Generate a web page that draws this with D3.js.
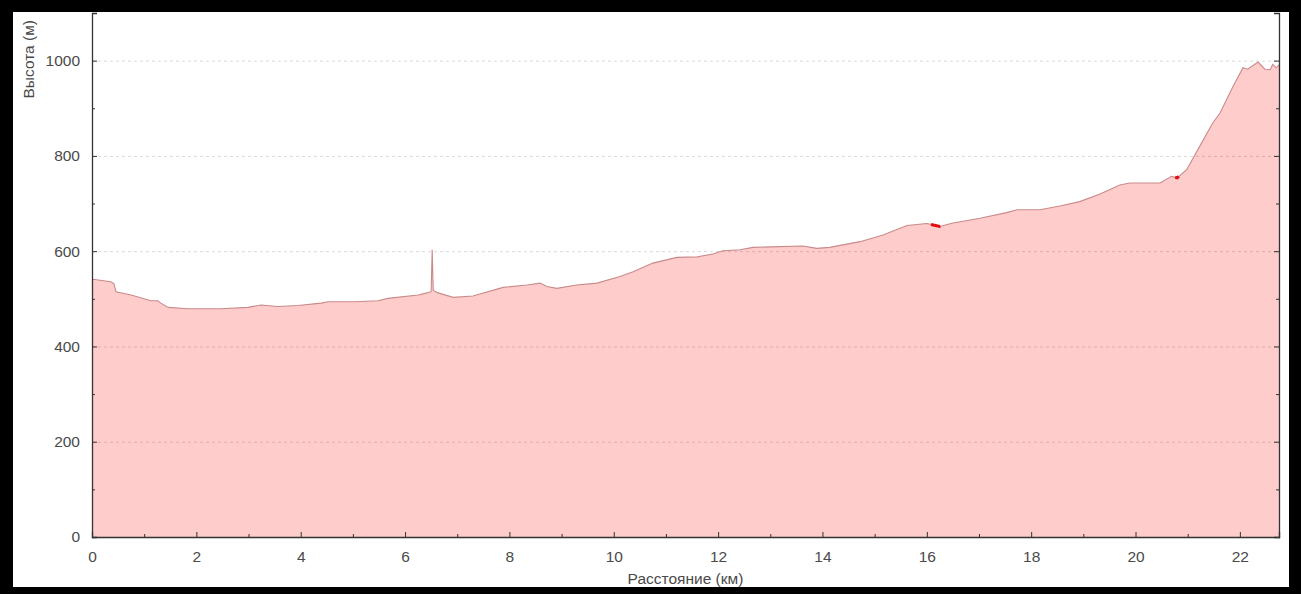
<!DOCTYPE html>
<html>
<head>
<meta charset="utf-8">
<script src="https://cdn.jsdelivr.net/npm/d3@7"></script>
<style>
  html, body { margin: 0; padding: 0; background: #000; }
  svg { display: block; }
</style>
</head>
<body>
<svg id="chart" width="1301" height="594"></svg>
<script>
const distanceKm = [0, 0.02, 0.36, 0.42, 0.46, 0.75, 1.13, 1.26, 1.32, 1.46, 1.84, 2.47, 2.99, 3.24, 3.56, 3.95, 4.39, 4.52, 5.04, 5.48, 5.67, 6.25, 6.40, 6.50, 6.52, 6.54, 6.62, 6.92, 7.30, 7.88, 8.34, 8.59, 8.72, 8.91, 9.29, 9.68, 10.12, 10.37, 10.75, 11.21, 11.6, 11.9, 12.09, 12.42, 12.67, 13.63, 13.89, 14.14, 14.72, 15.16, 15.62, 16.0, 16.25, 16.5, 17.02, 17.53, 17.73, 18.17, 18.55, 18.93, 19.32, 19.7, 19.89, 20.08, 20.47, 20.69, 20.80, 20.98, 21.23, 21.48, 21.62, 21.87, 22.06, 22.15, 22.35, 22.48, 22.58, 22.63, 22.70, 22.75];
const elevationM = [540, 541, 536, 532, 515, 508, 496, 496, 491, 482, 479, 479, 482, 487, 484, 486, 491, 494, 494, 496, 501, 508, 512, 515, 603, 518, 513, 503, 506, 524, 529, 533, 526, 522, 529, 533, 547, 557, 575, 587, 588, 594, 601, 603, 608, 611, 606, 608, 620, 634, 654, 658, 652, 659, 669, 681, 687, 687, 695, 704, 720, 739, 743, 743, 743, 757, 754, 771, 820, 869, 890, 946, 985, 982, 997, 982, 981, 992, 985, 991];

// Highlighted (red) stretches of the track
const highlightStartKm = [16.08, 20.76];
const highlightEndKm = [16.26, 20.83];

const xTicksMajor = [0, 2, 4, 6, 8, 10, 12, 14, 16, 18, 20, 22];
const yTicksMajor = [0, 200, 400, 600, 800, 1000];
const xTitle = "Расстояние (км)";
const yTitle = "Высота (м)";

const svg = d3.select("#chart");
const W = 1301, H = 594;

// frame
svg.append("rect").attr("x", 0).attr("y", 0).attr("width", W).attr("height", H).attr("fill", "#000");
svg.append("rect").attr("x", 13).attr("y", 12).attr("width", 1276).attr("height", 575).attr("fill", "#fff");

const plot = { left: 92, right: 1279, top: 13, bottom: 537 };
const x = d3.scaleLinear().domain([0, 22.75]).range([plot.left, plot.right]);
const y = d3.scaleLinear().domain([0, 1100]).range([plot.bottom, plot.top]);

const data = distanceKm.map((d, i) => ({ d, e: elevationM[i] }));

// area
const area = d3.area().x(p => x(p.d)).y0(y(0)).y1(p => y(p.e));
svg.append("path").datum(data).attr("d", area).attr("fill", "#ffcccc");

// gridlines
svg.append("g").selectAll("line").data(yTicksMajor.filter(v => v > 0)).join("line")
  .attr("x1", plot.left).attr("x2", plot.right)
  .attr("y1", v => y(v) + 0.5).attr("y2", v => y(v) + 0.5)
  .attr("stroke", "rgba(0,0,0,0.15)").attr("stroke-dasharray", "3,3").attr("stroke-width", 1);

// profile line
const line = d3.line().x(p => x(p.d)).y(p => y(p.e));
svg.append("path").datum(data).attr("d", line)
  .attr("fill", "none").attr("stroke", "#c98a8a").attr("stroke-width", 1.1);

// highlights
const interp = km => {
  const i = d3.bisector(p => p.d).right(data, km);
  const a = data[Math.max(0, i - 1)], b = data[Math.min(data.length - 1, i)];
  const t = b.d === a.d ? 0 : (km - a.d) / (b.d - a.d);
  return a.e + (b.e - a.e) * t;
};
highlightStartKm.forEach((s, k) => {
  const e = highlightEndKm[k];
  const pts = [{ d: s, e: interp(s) }]
    .concat(data.filter(p => p.d > s && p.d < e))
    .concat([{ d: e, e: interp(e) }]);
  svg.append("path").datum(pts).attr("d", line)
    .attr("fill", "none").attr("stroke", "#e01010").attr("stroke-width", 3);
});

// axes
const axisColor = "#333";
const font = "Liberation Sans, Arial, sans-serif";
const textColor = "#4a4a4a";
const fs = 15.5;

const yAxisL = d3.axisLeft(y).tickValues(d3.range(0, 1101, 100)).tickSize(-5).tickFormat(v => yTicksMajor.includes(v) ? v : "");
const yAxisR = d3.axisRight(y).tickValues(d3.range(0, 1101, 100)).tickSize(-5).tickFormat("");
const xAxisB = d3.axisBottom(x).tickValues(d3.range(0, 23, 1)).tickSize(-5).tickFormat(v => xTicksMajor.includes(v) ? v : "");

const gL = svg.append("g").attr("transform", `translate(${plot.left},0)`).call(yAxisL);
const gR = svg.append("g").attr("transform", `translate(${plot.right},0)`).call(yAxisR);
const gB = svg.append("g").attr("transform", `translate(0,${plot.bottom})`).call(xAxisB);

[gL, gR, gB].forEach(g => {
  g.select(".domain").attr("stroke", axisColor).attr("stroke-width", 1.3);
  g.selectAll(".tick line").attr("stroke", axisColor);
  g.selectAll("text").attr("font-family", font).attr("font-size", fs).attr("fill", textColor);
});
gL.selectAll(".tick text").attr("x", -12);
gB.selectAll(".tick text").attr("y", 14);
// minor ticks shorter
gL.selectAll(".tick").filter(v => !yTicksMajor.includes(v)).select("line").attr("x2", 3);
gR.selectAll(".tick").filter(v => !yTicksMajor.includes(v)).select("line").attr("x2", -3);
gB.selectAll(".tick").filter(v => !xTicksMajor.includes(v)).select("line").attr("y2", -3);

// titles
svg.append("text").attr("x", (plot.left + plot.right) / 2).attr("y", 584)
  .attr("text-anchor", "middle").attr("font-family", font).attr("font-size", fs).attr("fill", textColor)
  .text(xTitle);
svg.append("text").attr("transform", "translate(34,20) rotate(-90)")
  .attr("text-anchor", "end").attr("font-family", font).attr("font-size", fs).attr("fill", textColor)
  .text(yTitle);
</script>
</body>
</html>
